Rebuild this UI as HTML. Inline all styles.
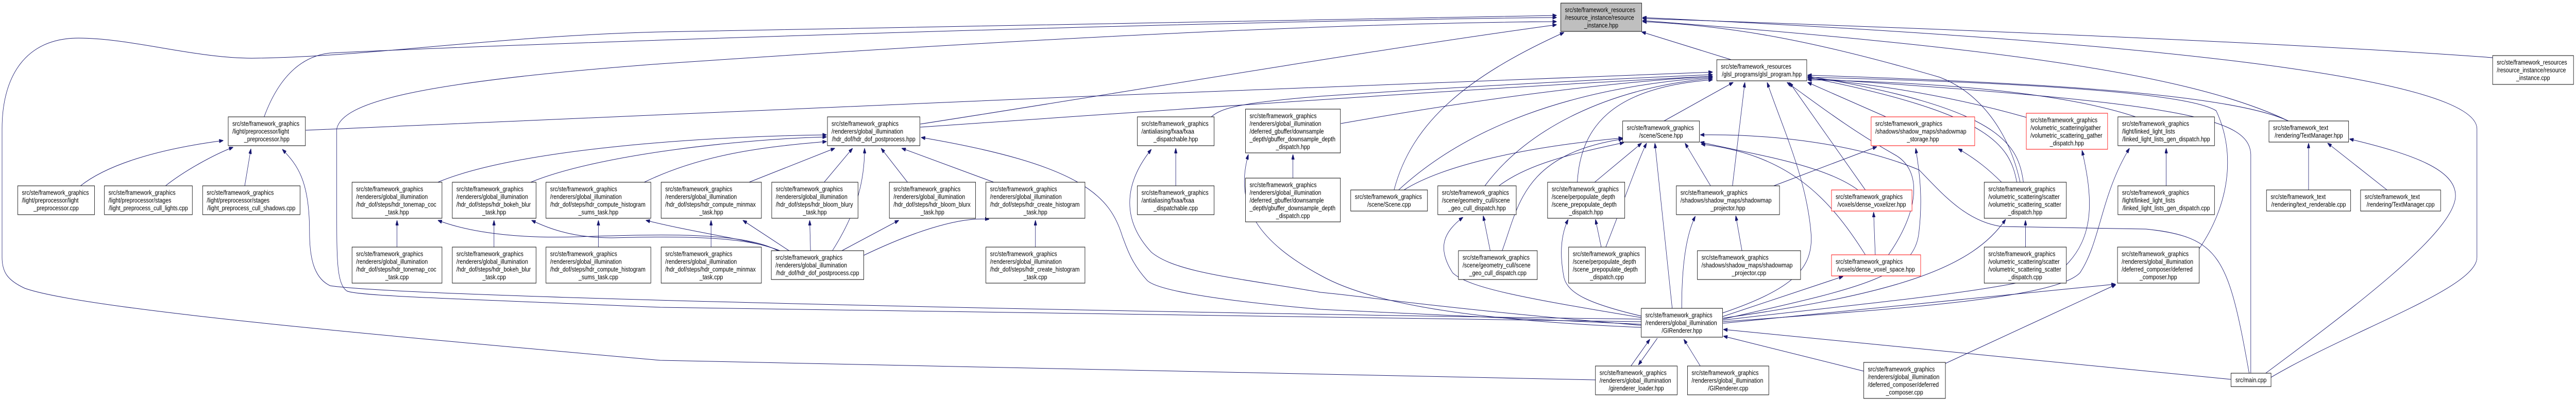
<!DOCTYPE html>
<html><head><meta charset="utf-8"><style>
html,body{margin:0;padding:0;background:#fff;overflow:hidden;width:100%;height:100%;}
svg{display:block;width:100vw;height:100vh;}
text{font-family:"Liberation Sans",sans-serif;font-size:13.3px;fill:#000;}
.c{text-anchor:middle;}
.e{fill:none;stroke:#191970;stroke-width:1;marker-end:url(#ah);}
.n{fill:#fff;stroke:#000;stroke-width:1;}
.r{fill:#fff;stroke:#f00;stroke-width:1;}
.g{fill:#bfbfbf;stroke:#000;stroke-width:1;}
</style></head><body>
<svg viewBox="0 0 6242 779" preserveAspectRatio="none" xmlns="http://www.w3.org/2000/svg">
<defs><marker id="ah" viewBox="0 0 10 7" refX="10" refY="3.5" markerWidth="10" markerHeight="7" markerUnits="userSpaceOnUse" orient="auto"><path d="M0,0 L10,3.5 L0,7 z" fill="#191970" stroke="#191970"/></marker></defs>
<g>
<path class="e" d="M195,361 C260,320 380,290 541,273"/>
<path class="e" d="M401,361 C450,330 520,300 565,286"/>
<path class="e" d="M593,361 L608,289"/>
<path class="e" d="M640,227 C680,140 740,108 800,103 C1400,80 3000,40 3772,34"/>
<path class="e" d="M741,253 C1500,220 3200,170 4150,140"/>
<path class="e" d="M3866,738 L1600,700 C900,650 200,600 60,560 C20,545 5,530 5,500 L5,250 C5,150 60,74 190,74 C320,74 480,115 620,113 C900,110 1200,70 1600,62 L3772,30"/>
<path class="e" d="M3977,620 C3000,610 1000,580 800,555 C760,540 750,500 750,450 C750,350 720,320 684,290"/>
<path class="e" d="M3977,625 L1600,597 C1100,580 860,575 840,565 C815,550 816,500 816,400 L816,250 C830,200 1000,160 1600,124 C2400,80 3200,45 3772,42"/>
<path class="e" d="M1061,354 C1250,290 1700,265 2003,262"/>
<path class="e" d="M1286,354 C1450,300 1800,270 2003,266"/>
<path class="e" d="M1561,354 C1700,300 1850,285 2003,275"/>
<path class="e" d="M962,480 L962,428"/>
<path class="e" d="M1197,480 L1197,428"/>
<path class="e" d="M1450,480 L1450,428"/>
<path class="e" d="M1885,487 C1800,450 1600,455 1400,460 C1200,465 1100,440 1061,428"/>
<path class="e" d="M1888,487 C1800,455 1600,460 1480,462 C1380,462 1320,440 1288,428"/>
<path class="e" d="M1890,487 C1820,465 1700,455 1565,428"/>
<path class="e" d="M1815,354 L2023,288"/>
<path class="e" d="M1997,354 L2066,288"/>
<path class="e" d="M2199,354 L2135,288"/>
<path class="e" d="M2408,354 L2185,288"/>
<path class="e" d="M2017,487 C2070,420 2095,360 2095,288"/>
<path class="e" d="M1723,480 L1723,428"/>
<path class="e" d="M1912,487 L1800,428"/>
<path class="e" d="M1964,487 L1962,428"/>
<path class="e" d="M2040,487 L2178,428"/>
<path class="e" d="M2093,496 C2200,455 2320,420 2397,426"/>
<path class="e" d="M2509,480 L2509,428"/>
<path class="e" d="M2230,241 C2800,170 3300,100 3772,48"/>
<path class="e" d="M2230,247 C2900,210 3600,170 4150,148"/>
<path class="e" d="M3977,630 L3200,601 C2900,580 2800,560 2780,545 C2740,510 2730,480 2720,460 C2690,380 2620,320 2232,267"/>
<path class="e" d="M2849,361 L2849,288"/>
<path class="e" d="M3977,632 C3500,600 3300,575 3200,568 C3000,540 2850,530 2790,490 C2720,430 2720,360 2790,290"/>
<path class="e" d="M2935,227 C2960,210 3000,200 3200,187 C3600,165 4000,150 4150,145"/>
<path class="e" d="M3133,346 L3133,300"/>
<path class="e" d="M3249,240 C3600,190 3900,160 4150,148"/>
<path class="e" d="M3977,636 C3500,620 3300,580 3200,535 C3050,470 2990,400 3025,300"/>
<path class="e" d="M3378,369 C3420,240 3550,150 3790,63"/>
<path class="e" d="M3389,369 C3550,250 3800,170 4150,150"/>
<path class="e" d="M3402,369 C3500,320 3700,285 3932,268"/>
<path class="e" d="M3598,361 C3700,250 3900,170 4150,152"/>
<path class="e" d="M3632,361 C3700,320 3800,300 3935,277"/>
<path class="e" d="M3611,487 L3594,419"/>
<path class="e" d="M3640,487 C3680,400 3690,300 3932,270"/>
<path class="e" d="M3822,354 C3830,250 3900,170 4150,155"/>
<path class="e" d="M3864,354 L3978,278"/>
<path class="e" d="M3880,480 L3866,426"/>
<path class="e" d="M3891,480 C3940,380 3970,310 3990,278"/>
<path class="e" d="M3977,617 C3700,580 3560,560 3520,530 C3480,480 3500,450 3545,422"/>
<path class="e" d="M3977,614 C3850,590 3800,570 3790,540 C3780,500 3780,460 3800,426"/>
<path class="e" d="M4052,599 L4010,278"/>
<path class="e" d="M4032,235 L4200,160"/>
<path class="e" d="M4198,361 L4228,160"/>
<path class="e" d="M4145,361 L4083,278"/>
<path class="e" d="M4298,361 L4548,285"/>
<path class="e" d="M4221,487 L4206,419"/>
<path class="e" d="M4075,599 C4075,500 4090,450 4108,420"/>
<path class="e" d="M4520,369 L4336,160"/>
<path class="e" d="M4502,369 C4420,320 4250,300 4120,276"/>
<path class="e" d="M4544,495 L4540,412"/>
<path class="e" d="M4520,495 C4430,380 4330,300 4122,280"/>
<path class="e" d="M4576,495 C4650,410 4660,330 4590,300 C4480,250 4400,200 4330,160"/>
<path class="e" d="M4174,615 L4466,537"/>
<path class="e" d="M4174,608 C4350,560 4390,520 4389,460 C4380,350 4320,250 4282,160"/>
<path class="e" d="M4570,227 L4380,160"/>
<path class="e" d="M4195,116 L3978,62"/>
<path class="e" d="M3952,711 L3998,659"/>
<path class="e" d="M4016,657 L3970,709"/>
<path class="e" d="M4120,711 L4080,659"/>
<path class="e" d="M4516,721 L4176,653"/>
<path class="e" d="M4714,706 L5127,553"/>
<path class="e" d="M4175,620 C4500,560 4640,540 4650,450 C4660,380 4650,330 4642,288"/>
<path class="e" d="M5406,737 L4176,640"/>
<path class="e" d="M4175,622 C4500,590 4950,560 5000,520 C5080,460 5070,380 5045,292"/>
<path class="e" d="M4175,625 C4600,600 4980,580 5040,530 C5090,470 5090,380 5160,288"/>
<path class="e" d="M4175,628 L5126,552"/>
<path class="e" d="M4175,618 C4600,570 4780,520 4860,426"/>
<path class="e" d="M4908,480 L4908,428"/>
<path class="e" d="M4887,354 C4870,280 4820,220 4380,150"/>
<path class="e" d="M4903,354 C4890,280 4850,210 4380,148"/>
<path class="e" d="M5249,361 L5249,288"/>
<path class="e" d="M4910,228 C4700,180 4500,160 4380,152"/>
<path class="e" d="M5175,227 C5000,180 4700,160 4380,155"/>
<path class="e" d="M5545,235 C5400,180 4900,160 4380,146"/>
<path class="e" d="M5545,235 C5300,140 4800,90 3980,40"/>
<path class="e" d="M6040,112 C5500,80 4500,50 3980,36"/>
<path class="e" d="M5503,733 C5700,640 6002,560 6002,500 L6002,250 C6000,150 5200,80 3980,34"/>
<path class="e" d="M5454,725 L5454,300 C5450,230 5300,200 4380,152"/>
<path class="e" d="M5329,483 C5400,400 5420,300 5370,215 C5300,180 4900,160 4380,150"/>
<path class="e" d="M5450,725 C5400,500 5380,460 5200,445 L4850,440 C4760,430 4700,370 4650,330 C4500,280 4300,260 4120,262"/>
<path class="e" d="M5784,369 L5640,278"/>
<path class="e" d="M5594,369 L5594,278"/>
<path class="e" d="M5490,725 C5700,600 5950,450 5950,380 C5950,330 5850,300 5693,270"/>
<path class="e" d="M4850,354 C4820,330 4790,310 4745,289"/>
<path class="e" d="M4895,354 C4870,260 4800,180 4700,150 C4400,80 4200,50 3980,42"/>
</g>
<g>
<rect class="n" x="43" y="361" width="186" height="56"/><text x="53" y="378.5">src/ste/framework_graphics</text><text x="53" y="393.5">/light/preprocessor/light</text><text class="c" x="136" y="408.5">_preprocessor.cpp</text>
<rect class="n" x="253" y="361" width="213" height="56"/><text x="263" y="378.5">src/ste/framework_graphics</text><text x="263" y="393.5">/light/preprocessor/stages</text><text class="c" x="359.5" y="408.5">/light_preprocess_cull_lights.cpp</text>
<rect class="n" x="491" y="361" width="236" height="56"/><text x="501" y="378.5">src/ste/framework_graphics</text><text x="501" y="393.5">/light/preprocessor/stages</text><text class="c" x="609" y="408.5">/light_preprocess_cull_shadows.cpp</text>
<rect class="n" x="553" y="227" width="187" height="56"/><text x="563" y="244.5">src/ste/framework_graphics</text><text x="563" y="259.5">/light/preprocessor/light</text><text class="c" x="646.5" y="274.5">_preprocessor.hpp</text>

<rect class="n" x="853" y="354" width="218" height="70"/><text x="863" y="371.5">src/ste/framework_graphics</text><text x="863" y="386.5">/renderers/global_illumination</text><text x="863" y="401.5">/hdr_dof/steps/hdr_tonemap_coc</text><text class="c" x="962" y="416.5">_task.hpp</text>
<rect class="n" x="853" y="480" width="218" height="70"/><text x="863" y="497.5">src/ste/framework_graphics</text><text x="863" y="512.5">/renderers/global_illumination</text><text x="863" y="527.5">/hdr_dof/steps/hdr_tonemap_coc</text><text class="c" x="962" y="542.5">_task.cpp</text>
<rect class="n" x="1096" y="354" width="203" height="70"/><text x="1106" y="371.5">src/ste/framework_graphics</text><text x="1106" y="386.5">/renderers/global_illumination</text><text x="1106" y="401.5">/hdr_dof/steps/hdr_bokeh_blur</text><text class="c" x="1197.5" y="416.5">_task.hpp</text>
<rect class="n" x="1096" y="480" width="203" height="70"/><text x="1106" y="497.5">src/ste/framework_graphics</text><text x="1106" y="512.5">/renderers/global_illumination</text><text x="1106" y="527.5">/hdr_dof/steps/hdr_bokeh_blur</text><text class="c" x="1197.5" y="542.5">_task.cpp</text>
<rect class="n" x="1323" y="354" width="254" height="70"/><text x="1333" y="371.5">src/ste/framework_graphics</text><text x="1333" y="386.5">/renderers/global_illumination</text><text x="1333" y="401.5">/hdr_dof/steps/hdr_compute_histogram</text><text class="c" x="1450" y="416.5">_sums_task.hpp</text>
<rect class="n" x="1323" y="480" width="254" height="70"/><text x="1333" y="497.5">src/ste/framework_graphics</text><text x="1333" y="512.5">/renderers/global_illumination</text><text x="1333" y="527.5">/hdr_dof/steps/hdr_compute_histogram</text><text class="c" x="1450" y="542.5">_sums_task.cpp</text>
<rect class="n" x="1602" y="354" width="243" height="70"/><text x="1612" y="371.5">src/ste/framework_graphics</text><text x="1612" y="386.5">/renderers/global_illumination</text><text x="1612" y="401.5">/hdr_dof/steps/hdr_compute_minmax</text><text class="c" x="1723.5" y="416.5">_task.hpp</text>
<rect class="n" x="1602" y="480" width="243" height="70"/><text x="1612" y="497.5">src/ste/framework_graphics</text><text x="1612" y="512.5">/renderers/global_illumination</text><text x="1612" y="527.5">/hdr_dof/steps/hdr_compute_minmax</text><text class="c" x="1723.5" y="542.5">_task.cpp</text>
<rect class="n" x="1870" y="354" width="209" height="70"/><text x="1880" y="371.5">src/ste/framework_graphics</text><text x="1880" y="386.5">/renderers/global_illumination</text><text x="1880" y="401.5">/hdr_dof/steps/hdr_bloom_blury</text><text class="c" x="1974.5" y="416.5">_task.hpp</text>
<rect class="n" x="2155" y="354" width="209" height="70"/><text x="2165" y="371.5">src/ste/framework_graphics</text><text x="2165" y="386.5">/renderers/global_illumination</text><text x="2165" y="401.5">/hdr_dof/steps/hdr_bloom_blurx</text><text class="c" x="2259.5" y="416.5">_task.hpp</text>
<rect class="n" x="2389" y="354" width="240" height="70"/><text x="2399" y="371.5">src/ste/framework_graphics</text><text x="2399" y="386.5">/renderers/global_illumination</text><text x="2399" y="401.5">/hdr_dof/steps/hdr_create_histogram</text><text class="c" x="2509" y="416.5">_task.hpp</text>
<rect class="n" x="2389" y="480" width="240" height="70"/><text x="2399" y="497.5">src/ste/framework_graphics</text><text x="2399" y="512.5">/renderers/global_illumination</text><text x="2399" y="527.5">/hdr_dof/steps/hdr_create_histogram</text><text class="c" x="2509" y="542.5">_task.cpp</text>
<rect class="n" x="2005" y="227" width="224" height="56"/><text x="2015" y="244.5">src/ste/framework_graphics</text><text x="2015" y="259.5">/renderers/global_illumination</text><text class="c" x="2117" y="274.5">/hdr_dof/hdr_dof_postprocess.hpp</text>
<rect class="n" x="1869" y="487" width="224" height="56"/><text x="1879" y="504.5">src/ste/framework_graphics</text><text x="1879" y="519.5">/renderers/global_illumination</text><text class="c" x="1981" y="534.5">/hdr_dof/hdr_dof_postprocess.cpp</text>

<rect class="n" x="2756" y="227" width="186" height="56"/><text x="2766" y="244.5">src/ste/framework_graphics</text><text x="2766" y="259.5">/antialiasing/fxaa/fxaa</text><text class="c" x="2849" y="274.5">_dispatchable.hpp</text>
<rect class="n" x="2756" y="361" width="186" height="56"/><text x="2766" y="378.5">src/ste/framework_graphics</text><text x="2766" y="393.5">/antialiasing/fxaa/fxaa</text><text class="c" x="2849" y="408.5">_dispatchable.cpp</text>
<rect class="n" x="3018" y="212" width="230" height="85"/><text x="3028" y="229.5">src/ste/framework_graphics</text><text x="3028" y="244.5">/renderers/global_illumination</text><text x="3028" y="259.5">/deferred_gbuffer/downsample</text><text x="3028" y="274.5">_depth/gbuffer_downsample_depth</text><text class="c" x="3133" y="289.5">_dispatch.hpp</text>
<rect class="n" x="3018" y="346" width="230" height="85"/><text x="3028" y="363.5">src/ste/framework_graphics</text><text x="3028" y="378.5">/renderers/global_illumination</text><text x="3028" y="393.5">/deferred_gbuffer/downsample</text><text x="3028" y="408.5">_depth/gbuffer_downsample_depth</text><text class="c" x="3133" y="423.5">_dispatch.cpp</text>

<rect class="g" x="3782" y="6" width="196" height="55"/><text x="3792" y="23.5">src/ste/framework_resources</text><text x="3792" y="38.5">/resource_instance/resource</text><text class="c" x="3880" y="53.5">_instance.hpp</text>
<rect class="n" x="4160" y="116" width="218" height="41"/><text x="4170" y="133.5">src/ste/framework_resources</text><text class="c" x="4269" y="148.5">/glsl_programs/glsl_program.hpp</text>
<rect class="n" x="3273" y="369" width="186" height="41"/><text x="3283" y="386.5">src/ste/framework_graphics</text><text class="c" x="3366" y="401.5">/scene/Scene.cpp</text>
<rect class="n" x="3484" y="361" width="190" height="56"/><text x="3494" y="378.5">src/ste/framework_graphics</text><text x="3494" y="393.5">/scene/geometry_cull/scene</text><text class="c" x="3579" y="408.5">_geo_cull_dispatch.hpp</text>
<rect class="n" x="3534" y="487" width="191" height="56"/><text x="3544" y="504.5">src/ste/framework_graphics</text><text x="3544" y="519.5">/scene/geometry_cull/scene</text><text class="c" x="3629.5" y="534.5">_geo_cull_dispatch.cpp</text>
<rect class="n" x="3750" y="354" width="187" height="70"/><text x="3760" y="371.5">src/ste/framework_graphics</text><text x="3760" y="386.5">/scene/perpopulate_depth</text><text x="3760" y="401.5">/scene_prepopulate_depth</text><text class="c" x="3843.5" y="416.5">_dispatch.hpp</text>
<rect class="n" x="3801" y="480" width="186" height="70"/><text x="3811" y="497.5">src/ste/framework_graphics</text><text x="3811" y="512.5">/scene/perpopulate_depth</text><text x="3811" y="527.5">/scene_prepopulate_depth</text><text class="c" x="3894" y="542.5">_dispatch.cpp</text>
<rect class="n" x="3932" y="235" width="186" height="41"/><text x="3942" y="252.5">src/ste/framework_graphics</text><text class="c" x="4025" y="267.5">/scene/Scene.hpp</text>
<rect class="n" x="4062" y="361" width="250" height="56"/><text x="4072" y="378.5">src/ste/framework_graphics</text><text x="4072" y="393.5">/shadows/shadow_maps/shadowmap</text><text class="c" x="4187" y="408.5">_projector.hpp</text>
<rect class="n" x="4113" y="487" width="250" height="56"/><text x="4123" y="504.5">src/ste/framework_graphics</text><text x="4123" y="519.5">/shadows/shadow_maps/shadowmap</text><text class="c" x="4238" y="534.5">_projector.cpp</text>
<rect class="r" x="4438" y="369" width="195" height="41"/><text x="4448" y="386.5">src/ste/framework_graphics</text><text class="c" x="4535.5" y="401.5">/voxels/dense_voxelizer.hpp</text>
<rect class="r" x="4438" y="495" width="216" height="41"/><text x="4448" y="512.5">src/ste/framework_graphics</text><text class="c" x="4546" y="527.5">/voxels/dense_voxel_space.hpp</text>
<rect class="r" x="4534" y="227" width="251" height="56"/><text x="4544" y="244.5">src/ste/framework_graphics</text><text x="4544" y="259.5">/shadows/shadow_maps/shadowmap</text><text class="c" x="4659.5" y="274.5">_storage.hpp</text>
<rect class="n" x="3977" y="599" width="197" height="56"/><text x="3987" y="616.5">src/ste/framework_graphics</text><text x="3987" y="631.5">/renderers/global_illumination</text><text class="c" x="4075.5" y="646.5">/GIRenderer.hpp</text>
<rect class="n" x="3866" y="711" width="198" height="56"/><text x="3876" y="728.5">src/ste/framework_graphics</text><text x="3876" y="743.5">/renderers/global_illumination</text><text class="c" x="3965" y="758.5">/girenderer_loader.hpp</text>
<rect class="n" x="4089" y="711" width="197" height="56"/><text x="4099" y="728.5">src/ste/framework_graphics</text><text x="4099" y="743.5">/renderers/global_illumination</text><text class="c" x="4187.5" y="758.5">/GIRenderer.cpp</text>
<rect class="n" x="4516" y="704" width="198" height="70"/><text x="4526" y="721.5">src/ste/framework_graphics</text><text x="4526" y="736.5">/renderers/global_illumination</text><text x="4526" y="751.5">/deferred_composer/deferred</text><text class="c" x="4615" y="766.5">_composer.cpp</text>

<rect class="n" x="4808" y="354" width="199" height="70"/><text x="4818" y="371.5">src/ste/framework_graphics</text><text x="4818" y="386.5">/volumetric_scattering/scatter</text><text x="4818" y="401.5">/volumetric_scattering_scatter</text><text class="c" x="4907.5" y="416.5">_dispatch.hpp</text>
<rect class="n" x="4808" y="480" width="199" height="70"/><text x="4818" y="497.5">src/ste/framework_graphics</text><text x="4818" y="512.5">/volumetric_scattering/scatter</text><text x="4818" y="527.5">/volumetric_scattering_scatter</text><text class="c" x="4907.5" y="542.5">_dispatch.cpp</text>
<rect class="r" x="4910" y="220" width="197" height="70"/><text x="4920" y="237.5">src/ste/framework_graphics</text><text x="4920" y="252.5">/volumetric_scattering/gather</text><text x="4920" y="267.5">/volumetric_scattering_gather</text><text class="c" x="5008.5" y="282.5">_dispatch.hpp</text>
<rect class="n" x="5132" y="227" width="234" height="56"/><text x="5142" y="244.5">src/ste/framework_graphics</text><text x="5142" y="259.5">/light/linked_light_lists</text><text class="c" x="5249" y="274.5">/linked_light_lists_gen_dispatch.hpp</text>
<rect class="n" x="5132" y="361" width="234" height="56"/><text x="5142" y="378.5">src/ste/framework_graphics</text><text x="5142" y="393.5">/light/linked_light_lists</text><text class="c" x="5249" y="408.5">/linked_light_lists_gen_dispatch.cpp</text>
<rect class="n" x="5131" y="480" width="198" height="70"/><text x="5141" y="497.5">src/ste/framework_graphics</text><text x="5141" y="512.5">/renderers/global_illumination</text><text x="5141" y="527.5">/deferred_composer/deferred</text><text class="c" x="5230" y="542.5">_composer.hpp</text>
<rect class="n" x="5498" y="235" width="193" height="41"/><text x="5508" y="252.5">src/ste/framework_text</text><text class="c" x="5594.5" y="267.5">/rendering/TextManager.hpp</text>
<rect class="n" x="5492" y="369" width="204" height="41"/><text x="5502" y="386.5">src/ste/framework_text</text><text class="c" x="5594" y="401.5">/rendering/text_renderable.cpp</text>
<rect class="n" x="5720" y="369" width="194" height="41"/><text x="5730" y="386.5">src/ste/framework_text</text><text class="c" x="5817" y="401.5">/rendering/TextManager.cpp</text>
<rect class="n" x="5406" y="725" width="97" height="26"/><text class="c" x="5454.5" y="742.5">src/main.cpp</text>
<rect class="n" x="6040" y="108" width="196" height="56"/><text x="6050" y="125.5">src/ste/framework_resources</text><text x="6050" y="140.5">/resource_instance/resource</text><text class="c" x="6138" y="155.5">_instance.cpp</text>
</g>
</svg>
</body></html>
